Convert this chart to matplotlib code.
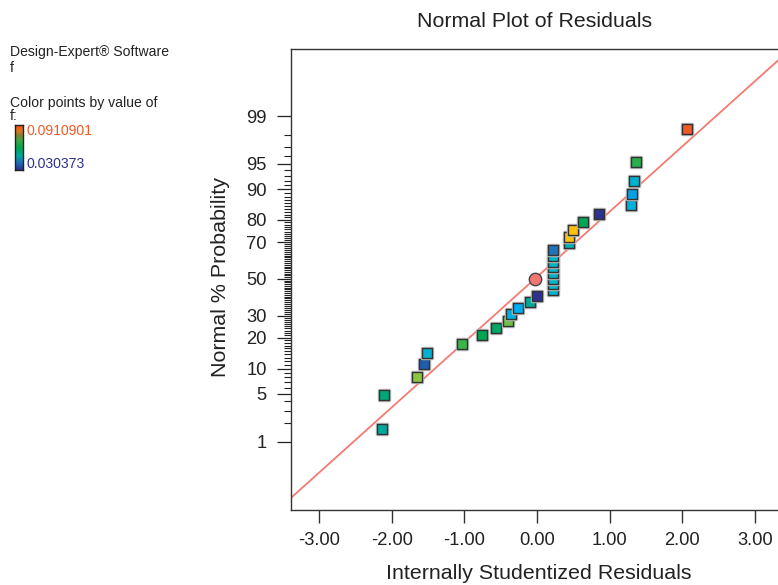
import matplotlib
matplotlib.use('Agg')
import matplotlib.pyplot as plt
import matplotlib.patheffects as pe
from matplotlib.colors import LinearSegmentedColormap, Normalize
from statistics import NormalDist
import numpy as np

plt.rcParams['font.family'] = ['Liberation Sans', 'DejaVu Sans']

# residuals, in rank order
residuals = [-2.14, -2.11, -1.66, -1.56, -1.51, -1.03, -0.76, -0.56, -0.40, -0.36,
             -0.26, -0.09, 0.00, 0.22, 0.22, 0.22, 0.22, 0.22, 0.22, 0.22,
             0.22, 0.44, 0.445, 0.49, 0.64, 0.85, 1.30, 1.31, 1.34, 1.37, 2.07]
# normal % probability of each point
prob_pct = [1.6, 4.8, 8.1, 11.3, 14.5, 17.7, 21.0, 24.2, 27.4, 30.6,
            33.9, 37.1, 40.3, 43.5, 46.8, 50.0, 53.2, 56.5, 59.7, 62.9,
            66.1, 69.4, 72.6, 75.8, 79.0, 82.3, 85.5, 88.7, 91.9, 95.2, 98.4]
# value of f used for the colour of each point
f_values = [0.0577, 0.0607, 0.0759, 0.0352, 0.0504, 0.0698, 0.0638, 0.0620, 0.0735, 0.0474,
            0.0456, 0.0577, 0.0304, 0.0516, 0.0516, 0.0516, 0.0516, 0.0516, 0.0516, 0.0516,
            0.0377, 0.0547, 0.0820, 0.0820, 0.0638, 0.0304, 0.0486, 0.0437, 0.0504, 0.0680,
            0.0911]
f_min, f_max = 0.030373, 0.0910901

# reference line (centre and spread of residuals)
line_center = -0.03
line_sd = 1.074
center_point = (-0.03, 50.0)

major_pct = [1, 5, 10, 20, 30, 50, 70, 80, 90, 95, 99]
x_ticks = [-3, -2, -1, 0, 1, 2, 3]

nd = NormalDist()
def probit(p):
    return nd.inv_cdf(p / 100.0)

de_cmap = LinearSegmentedColormap.from_list('de', [
    (0.00, '#2E3192'), (0.12, '#1C75BC'), (0.25, '#00AEEF'), (0.35, '#00B3C8'),
    (0.45, '#00A99D'), (0.55, '#00A651'), (0.65, '#39B54A'), (0.75, '#8DC63F'),
    (0.85, '#FFC20E'), (1.00, '#F15A24')])
# the small legend bar is drawn smoother in the original
bar_cmap = LinearSegmentedColormap.from_list('bar', [
    (0.00, '#2B2F8F'), (0.15, '#1C6DB8'), (0.32, '#00A99D'), (0.48, '#00A651'),
    (0.66, '#3AA848'), (0.78, '#8A7F32'), (0.88, '#E8741E'), (1.00, '#F04E23')])
norm = Normalize(f_min, f_max)

W, H = 778, 585
fig = plt.figure(figsize=(W / 100, H / 100), dpi=100)
ax = fig.add_axes([291 / W, (H - 510) / H, 492 / W, 461.3 / H])

txt = '#222222'
line_col = '#F37B72'

# reference line
xl = np.array([-3.39, 3.39])
ax.plot(xl, (xl - line_center) / line_sd, color=line_col, lw=1.3, zorder=2)

# points
z = [probit(p) for p in prob_pct]
sc = ax.scatter(residuals, z, c=f_values, cmap=de_cmap, norm=norm, marker='s', s=52,
                edgecolors='#333333', linewidths=1.0, zorder=3)
sc.set_path_effects([pe.withStroke(linewidth=2.5, foreground='#bdbdbd')])
ax.scatter([center_point[0]], [probit(center_point[1])], marker='o', s=80,
           facecolor='#EF7672', edgecolors='#444444', linewidths=1.0, zorder=4)

ax.set_xlim(-3.39, 3.39)
ax.set_ylim(-3.302, 3.288)

ax.set_xticks(x_ticks)
ax.set_xticklabels(['%.2f' % v for v in x_ticks])
ax.set_yticks([probit(p) for p in major_pct])
ax.set_yticklabels([str(p) for p in major_pct])
minor_pct = [p for p in range(2, 99) if p not in major_pct]
ax.set_yticks([probit(p) for p in minor_pct], minor=True)

ax.tick_params(axis='x', length=9.5, width=1.0, pad=6.0, labelsize=13.2, colors='#333333', labelcolor=txt)
ax.tick_params(axis='y', which='major', length=10, width=0.9, pad=7.5, labelsize=13.2, colors='#222222', labelcolor=txt)
ax.tick_params(axis='y', which='minor', length=5, width=0.8, colors='#222222')

for s in ['left', 'bottom', 'top']:
    ax.spines[s].set_color('#333333')
    ax.spines[s].set_linewidth(1.0)
ax.spines['right'].set_visible(False)

fig.text(535 / W, 1 - 27.3 / H, 'Normal Plot of Residuals', ha='center', va='baseline',
         fontsize=15.4, color=txt)
fig.text(538.7 / W, 1 - 579.3 / H, 'Internally Studentized Residuals', ha='center', va='baseline',
         fontsize=15.4, color=txt)
fig.text(220 / W, 1 - 277 / H, 'Normal % Probability', ha='center', va='center', rotation=90,
         fontsize=15.4, color=txt)

# info panel on the left
fs_info = 10.1
fig.text(10 / W, 1 - 55.7 / H, 'Design-Expert\u00ae Software', fontsize=fs_info, color=txt, va='baseline')
fig.text(10 / W, 1 - 71.7 / H, 'f', fontsize=fs_info, color=txt, va='baseline')
fig.text(10 / W, 1 - 106.7 / H, 'Color points by value of', fontsize=fs_info, color=txt, va='baseline')
fig.text(10 / W, 1 - 120 / H, 'f:', fontsize=fs_info, color=txt, va='baseline')
fig.text(26.5 / W, 1 - 135 / H, '%g' % f_max, fontsize=fs_info, color='#F15A24', va='baseline')
fig.text(26.5 / W, 1 - 168.3 / H, '%g' % f_min, fontsize=fs_info, color='#2E3192', va='baseline')

cax = fig.add_axes([15 / W, 1 - 169.5 / H, 7.5 / W, 44.5 / H])
cax.imshow(np.linspace(1, 0, 100).reshape(-1, 1), aspect='auto', cmap=bar_cmap,
           extent=[0, 1, 0, 1])
cax.set_xticks([])
cax.set_yticks([])
for s in cax.spines.values():
    s.set_color('#222222')
    s.set_linewidth(1.0)

fig.savefig('out.png', dpi=100)
